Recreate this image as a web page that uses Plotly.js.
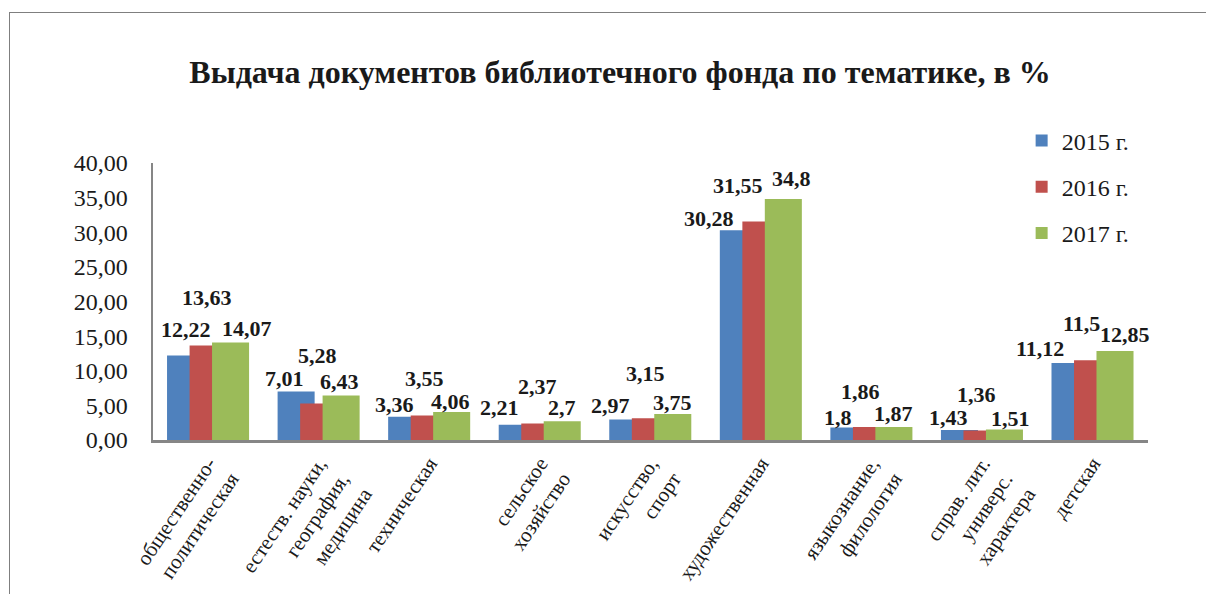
<!DOCTYPE html>
<html>
<head>
<meta charset="utf-8">
<script src="https://cdn.plot.ly/plotly-3.0.1.min.js"></script>
<style>
  html, body { margin: 0; padding: 0; background: #fff; }
  #wrap { position: relative; width: 1206px; height: 594px; overflow: hidden; }
  #chart { position: absolute; left: 0; top: 0; width: 1206px; height: 594px; }
  #frame { position: absolute; left: 9px; top: 12px; width: 1400px; height: 800px;
           border-left: 1.5px solid #7f7f7f; border-top: 1.5px solid #7f7f7f; pointer-events: none; }
</style>
</head>
<body>
<div id="wrap">
  <div id="chart"></div>
  <div id="frame"></div>
</div>
<script>
// ---- data ----
const categories = [
  "общественно-<br>политическая",
  "естеств. науки,<br>география,<br>медицина",
  "техническая",
  "сельское<br>хозяйство",
  "искусство,<br>спорт",
  "художественная",
  "языкознание,<br>филология",
  "справ. лит.<br>универс.<br>характера",
  "детская"
];
const seriesNames = ["2015 г.", "2016 г.", "2017 г."];
const values2015 = [12.22, 7.01, 3.36, 2.21, 2.97, 30.28, 1.8, 1.43, 11.12];
const values2016 = [13.63, 5.28, 3.55, 2.37, 3.15, 31.55, 1.86, 1.36, 11.5];
const values2017 = [14.07, 6.43, 4.06, 2.7, 3.75, 34.8, 1.87, 1.51, 12.85];

// ---- styling ----
const colors = ["#4F81BD", "#C0504D", "#9BBB59"];
const barWidth = 0.335;
const barOffsets = [-0.373, -0.169, 0.034];
// data-label nudges in pixels (up / right) relative to each bar's top centre
const labelLift = [
  [26, 12.5, 12, 17, 14, 12, 10.5, 13, 14],
  [48, 48, 37, 37, 45, 36, 36, 35.6, 37],
  [14, 13.5, 10, 14, 12, 21, 14, 11.5, 17]
];
const labelNudgeX = [
  [0, -12, -12, -18, -17, -29, -11, -11, -30],
  [-1, -1.5, -5, -2, -4.5, -23, -11, -6, -11],
  [16, -2, -1, 0, 0, 8, 0, 6, 10]
];

const allValues = [values2015, values2016, values2017];
const serif = "'Liberation Serif', 'Times New Roman', serif";

const traces = allValues.map((vals, s) => ({
  type: "bar",
  name: seriesNames[s],
  x: categories,
  y: vals,
  width: barWidth,
  offset: barOffsets[s],
  marker: { color: colors[s], line: { width: 0 } },
  legendgroup: "g" + s,
  hoverinfo: "x+y+name"
}));

const annotations = [];
allValues.forEach((vals, s) => {
  vals.forEach((v, i) => {
    annotations.push({
      xref: "x", yref: "y",
      x: i + barOffsets[s] + barWidth / 2,
      y: v,
      yanchor: "middle",
      xanchor: "center",
      yshift: labelLift[s][i],
      xshift: labelNudgeX[s][i],
      showarrow: false,
      text: "<b>" + String(v).replace(".", ",") + "</b>",
      font: { family: serif, size: 22, color: "#1a1a1a" }
    });
  });
});

const layout = {
  width: 1206,
  height: 594,
  margin: { l: 153, r: 58, t: 163, b: 154 },
  paper_bgcolor: "#ffffff",
  plot_bgcolor: "#ffffff",
  separators: ", ",
  barmode: "overlay",
  title: {
    text: "<b>Выдача документов библиотечного фонда по тематике, в %</b>",
    font: { family: serif, size: 32, color: "#1a1a1a" },
    x: 620 / 1206, xanchor: "center", xref: "container",
    y: 1 - 72 / 594, yanchor: "middle", yref: "container"
  },
  xaxis: {
    type: "category",
    range: [-0.5, 8.5],
    showline: true, linecolor: "#868686", linewidth: 3,
    showgrid: false, zeroline: false, ticks: "",
    tickangle: -56,
    tickfont: { family: serif, size: 21, color: "#1a1a1a" },
    fixedrange: true
  },
  yaxis: {
    range: [0, 40],
    dtick: 5, tick0: 0,
    tickformat: ".2f",
    showline: true, linecolor: "#868686", linewidth: 2.5,
    showgrid: false, zeroline: false, ticks: "",
    tickfont: { family: serif, size: 24, color: "#1a1a1a" },
    ticklabelstandoff: 18,
    fixedrange: true
  },
  showlegend: true,
  legend: {
    x: 0.873, xanchor: "left",
    y: 1.161, yanchor: "top",
    traceorder: "grouped",
    tracegroupgap: 12,
    bgcolor: "rgba(0,0,0,0)",
    font: { family: serif, size: 24, color: "#1a1a1a" }
  },
  annotations: annotations
};

Plotly.newPlot("chart", traces, layout, { displayModeBar: false, staticPlot: true });
</script>
</body>
</html>
